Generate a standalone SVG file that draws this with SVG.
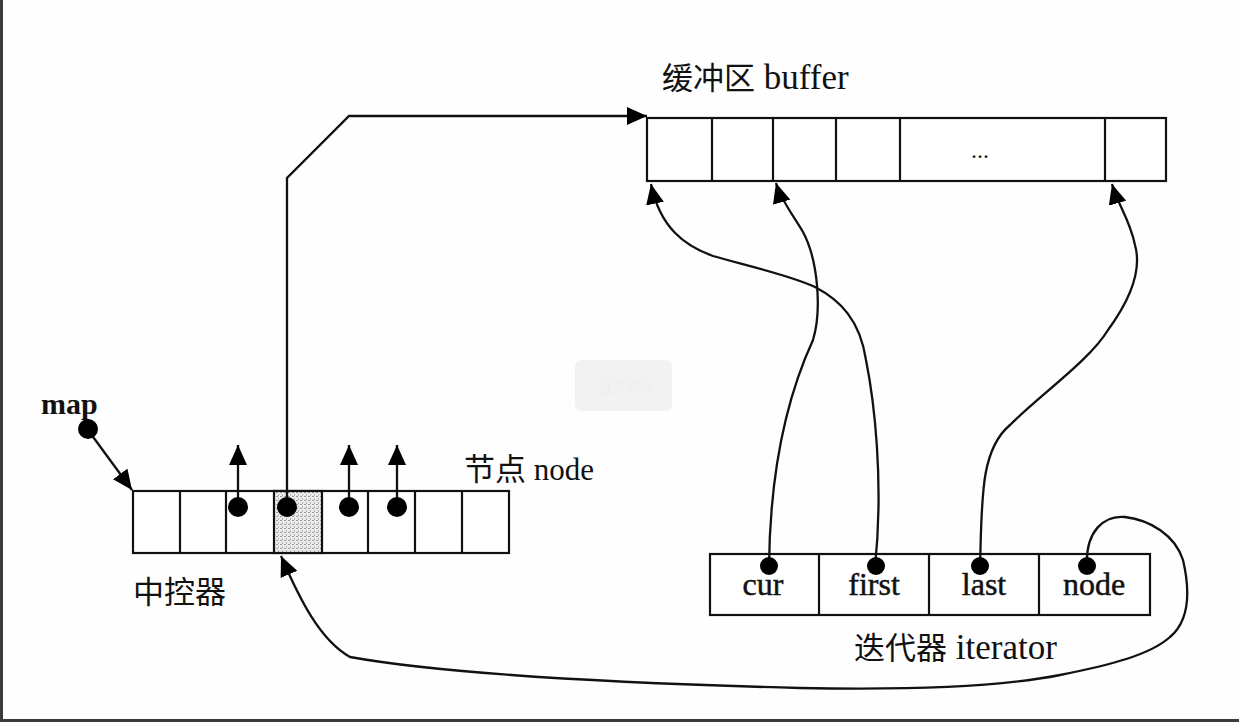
<svg xmlns="http://www.w3.org/2000/svg" width="1239" height="722" viewBox="0 0 1239 722">
<style>
.box{fill:none;stroke:#111;stroke-width:2.2}
.cell{fill:#fff;stroke:#111;stroke-width:2.2}
.div{stroke:#111;stroke-width:2.2}
.conn{fill:none;stroke:#111;stroke-width:2.3}
.dot{fill:#000}
.lbl{font-family:"Liberation Serif","Noto Sans CJK SC",serif;fill:#111}
.cjk{font-family:"Noto Sans CJK SC","Liberation Serif",sans-serif;fill:#111}
.val{font-family:"Liberation Serif",serif;fill:#111;stroke:#111;stroke-width:0.5}
</style>
<defs>
<marker id="arr" markerUnits="userSpaceOnUse" markerWidth="20" markerHeight="18" refX="20" refY="9" orient="auto">
<path d="M0,0 L20,9 L0,18 z" fill="#000"/>
</marker>
<pattern id="stip" width="4" height="4" patternUnits="userSpaceOnUse">
<rect width="4" height="4" fill="#ececec"/>
<rect x="0" y="0" width="2" height="1" fill="#9a9a9a"/>
<rect x="2" y="2" width="1" height="2" fill="#b5b5b5"/>
</pattern>
</defs>
<rect width="1239" height="722" fill="#fefefe"/>
<rect x="0" y="0" width="3" height="722" fill="#3b3b3b"/>
<rect x="0" y="719" width="1239" height="3" fill="#3b3b3b"/>

<g id="zoom-badge">
<rect x="575" y="360" width="97" height="51" rx="6" fill="#f2f2f2"/>
<text x="623" y="394" text-anchor="middle" font-family="Liberation Sans, sans-serif" font-size="22" fill="#efefef">200%</text>
</g>

<g id="buffer">
<text class="cjk" x="662" y="89" font-size="31">缓冲区<tspan class="lbl" font-size="35"> buffer</tspan></text>
<rect class="cell" x="647" y="118" width="519" height="63"/>
<line class="div" x1="712" y1="118" x2="712" y2="181"/>
<line class="div" x1="773" y1="118" x2="773" y2="181"/>
<line class="div" x1="836" y1="118" x2="836" y2="181"/>
<line class="div" x1="900" y1="118" x2="900" y2="181"/>
<line class="div" x1="1105" y1="118" x2="1105" y2="181"/>
<text class="lbl" x="980" y="158" font-size="24" text-anchor="middle">...</text>
</g>

<g id="map-label">
<text class="lbl" x="41" y="414" font-size="30" font-weight="bold">map</text>
</g>

<g id="controller">
<rect class="cell" x="133" y="491" width="376" height="62"/>
<rect x="274" y="491" width="48" height="62" fill="url(#stip)" stroke="#111" stroke-width="2.2"/>
<line class="div" x1="180" y1="491" x2="180" y2="553"/>
<line class="div" x1="226" y1="491" x2="226" y2="553"/>
<line class="div" x1="368" y1="491" x2="368" y2="553"/>
<line class="div" x1="415" y1="491" x2="415" y2="553"/>
<line class="div" x1="462" y1="491" x2="462" y2="553"/>
<text class="cjk" x="133" y="603" font-size="31">中控器</text>
<text class="cjk" x="464" y="480" font-size="31">节点<tspan class="lbl" font-size="31"> node</tspan></text>
</g>

<g id="iterator">
<rect class="cell" x="710" y="554" width="440" height="61"/>
<line class="div" x1="819" y1="554" x2="819" y2="615"/>
<line class="div" x1="929" y1="554" x2="929" y2="615"/>
<line class="div" x1="1039" y1="554" x2="1039" y2="615"/>
<text class="val" x="763" y="595" font-size="32" text-anchor="middle">cur</text>
<text class="val" x="874" y="595" font-size="32" text-anchor="middle">first</text>
<text class="val" x="984" y="595" font-size="32" text-anchor="middle">last</text>
<text class="val" x="1094" y="595" font-size="32" text-anchor="middle">node</text>
<text class="cjk" x="854" y="659" font-size="31">迭代器<tspan class="lbl" font-size="35"> iterator</tspan></text>
</g>

<g id="connectors">
<path class="conn" d="M88,430 L132,490" marker-end="url(#arr)"/>
<path class="conn" d="M238,507 V445" marker-end="url(#arr)"/>
<path class="conn" d="M349,507 V445" marker-end="url(#arr)"/>
<path class="conn" d="M397,507 V445" marker-end="url(#arr)"/>
<path class="conn" d="M287,507 V178 L349,116 H647" marker-end="url(#arr)"/>
<path class="conn" d="M769,567 C770,460 790,390 813,340 C822,310 818,260 803,232 C793,215 781,200 776,183" marker-end="url(#arr)"/>
<path class="conn" d="M875,567 C884,480 874,400 866,360 C860,320 840,300 815,287 C790,275 740,264 713,256 C685,246 660,228 651,184" marker-end="url(#arr)"/>
<path class="conn" d="M980,567 C982,500 980,450 1010,425 C1040,395 1090,360 1108,330 C1130,300 1142,270 1135,245 C1130,220 1118,205 1112,184" marker-end="url(#arr)"/>
<path class="conn" d="M1087,567 C1085,530 1105,515 1125,517 C1150,520 1175,535 1183,560 C1190,590 1190,620 1170,637 C1150,655 1110,665 1060,675 C1000,687 900,690 800,688 C650,684 450,675 350,657 C320,640 300,600 281,556" marker-end="url(#arr)"/>
<circle class="dot" cx="88" cy="429" r="10"/>
<circle class="dot" cx="238" cy="507" r="10"/>
<circle class="dot" cx="287" cy="507" r="10"/>
<circle class="dot" cx="349" cy="507" r="10"/>
<circle class="dot" cx="397" cy="507" r="10"/>
<circle class="dot" cx="769" cy="566" r="9"/>
<circle class="dot" cx="876" cy="566" r="9"/>
<circle class="dot" cx="980" cy="566" r="9"/>
<circle class="dot" cx="1087" cy="566" r="9"/>
</g>
</svg>
